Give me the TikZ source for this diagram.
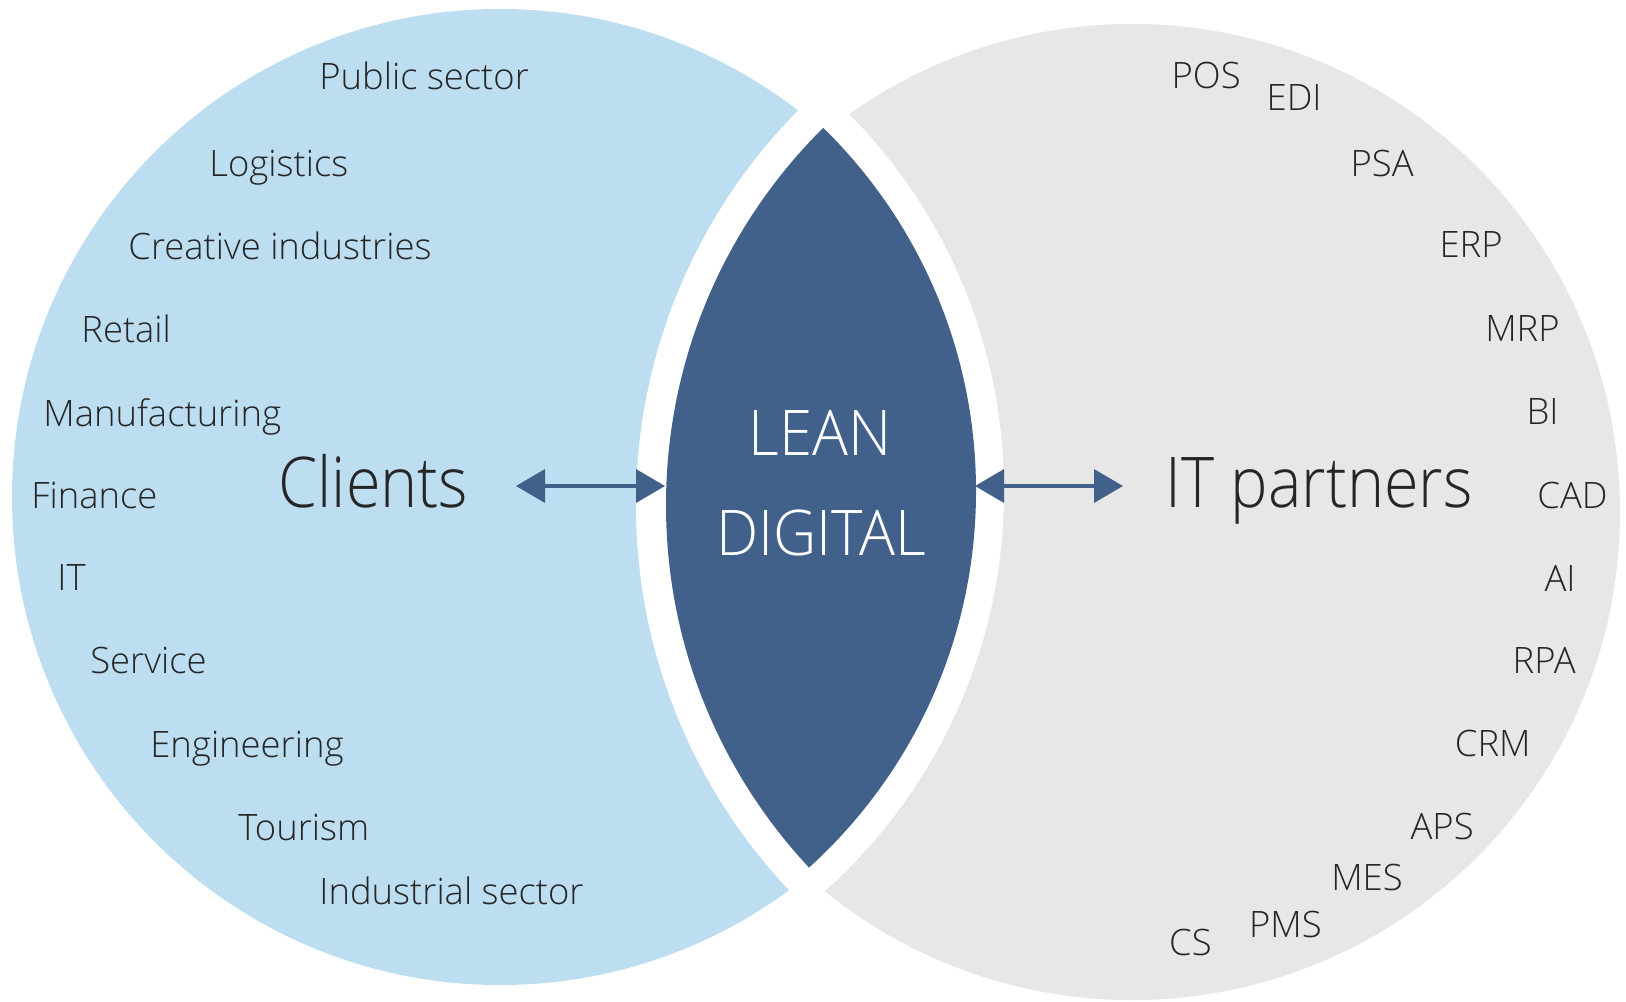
\documentclass[tikz,border=0pt]{standalone}
\usepackage{fontspec}
\setmainfont{Open Sans Light}
\newfontfamily\bigfont{Open Sans Light}[FakeStretch=0.9]
\newfontfamily\leanfont{Open Sans Light}[FakeStretch=0.95]
\usetikzlibrary{arrows.meta}
\definecolor{lightblue}{HTML}{BDDDF0}
\definecolor{lightgray}{HTML}{E7E7E7}
\definecolor{lensblue}{HTML}{41608A}
\definecolor{txt}{HTML}{262626}
\tikzset{
  lbl/.style={inner sep=0pt, text=txt, font=\fontsize{18.2}{20}\selectfont, anchor=base west},
  rlbl/.style={inner sep=0pt, text=txt, font=\fontsize{18.2}{20}\selectfont, anchor=base east},
  big/.style={inner sep=0pt, text=txt, font=\bigfont\fontsize{35}{40}\selectfont, anchor=base west},
  lean/.style={inner sep=0pt, text=white, font=\leanfont\fontsize{31.5}{36}\selectfont, anchor=base},
  dbl/.style={draw=lensblue, line width=1.8pt,
    {Triangle[length=14.5pt,width=16.5pt]}-{Triangle[length=14.5pt,width=16.5pt]}}
}
\begin{document}
\begin{tikzpicture}[x=0.5pt,y=-0.5pt]
\useasboundingbox (0,0) rectangle (1626,1001);
\fill[white] (0,0) rectangle (1626,1001);
% outer circles
\fill[lightblue] (500,497) circle[radius=244pt];
\fill[lightgray] (1132,512) circle[radius=244pt];
% white gap around the lens
\begin{scope}
  \clip (468,491) circle[radius=268pt];
  \fill[white] (1197,505) circle[radius=280.5pt];
\end{scope}
% lens
\begin{scope}
  \clip (468,491) circle[radius=254pt];
  \fill[lensblue] (1197,505) circle[radius=265.5pt];
\end{scope}
\node[lean] (lean1) at (820,455) {LEAN};
\node[lean] (lean2) at (821,555) {DIGITAL};
% big labels
\node[big] (clients) at (278,507) {Clients};
\node[big] (itp) at (1165,507) {IT partners};
% arrows
\coordinate (a1) at (516,486);
\coordinate (a2) at (665,486);
\coordinate (b1) at (975,486);
\coordinate (b2) at (1123,486);
\draw[dbl] (a1) -- (a2);
\draw[dbl] (b1) -- (b2);
% left labels
\node[lbl] (l1) at (319,89) {Public sector};
\node[lbl] (l2) at (209,176) {Logistics};
\node[lbl] (l3) at (128,259) {Creative industries};
\node[lbl] (l4) at (81,342) {Retail};
\node[lbl] (l5) at (43,426) {Manufacturing};
\node[lbl] (l6) at (31,508) {Finance};
\node[lbl] (l7) at (57,590) {IT};
\node[lbl] (l8) at (90,673) {Service};
\node[lbl] (l9) at (150,757) {Engineering};
\node[lbl] (l10) at (238,840) {Tourism};
\node[lbl] (l11) at (319,904) {Industrial sector};
% right labels
\node[rlbl] (r1) at (1241,88) {POS};
\node[rlbl] (r2) at (1322,110) {EDI};
\node[rlbl] (r3) at (1414,176) {PSA};
\node[rlbl] (r4) at (1503,257) {ERP};
\node[rlbl] (r5) at (1560,341) {MRP};
\node[rlbl] (r6) at (1559,424) {BI};
\node[rlbl] (r7) at (1608,508) {CAD};
\node[rlbl] (r8) at (1576,591) {AI};
\node[rlbl] (r9) at (1576,673) {RPA};
\node[rlbl] (r10) at (1531,756) {CRM};
\node[rlbl] (r11) at (1474,839) {APS};
\node[rlbl] (r12) at (1403,890) {MES};
\node[rlbl] (r13) at (1322,937) {PMS};
\node[rlbl] (r14) at (1212,955) {CS};
\end{tikzpicture}
\end{document}
